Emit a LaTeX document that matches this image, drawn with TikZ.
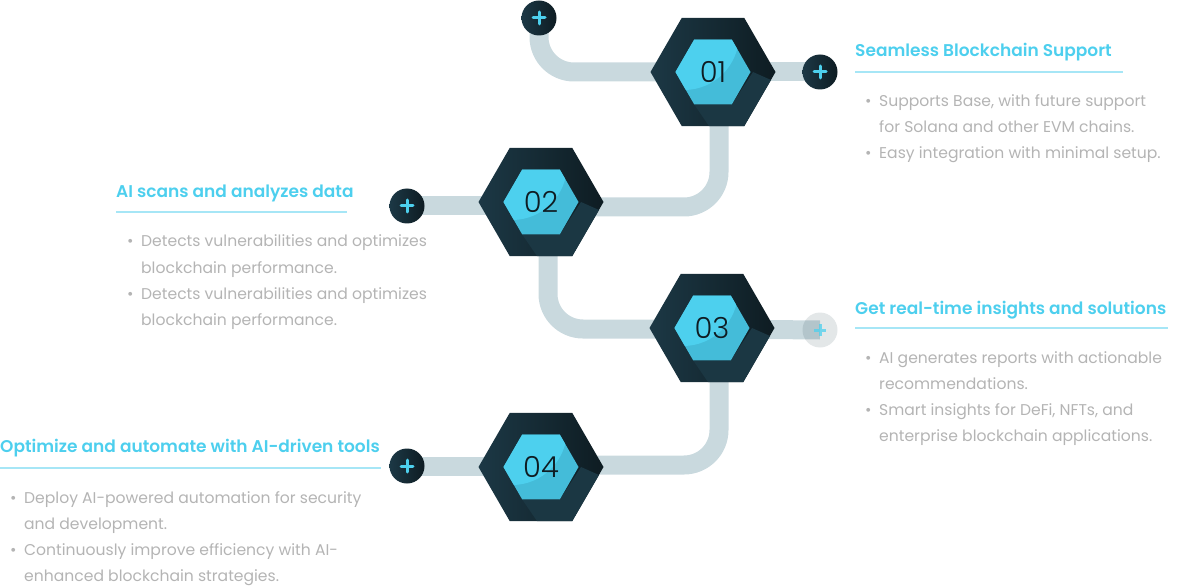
\documentclass[tikz,border=0pt]{standalone}
\usepackage{fontspec}
\setmainfont{Poppins}
\newfontfamily\headfont{Poppins}[UprightFont=*-SemiBold]
\newfontfamily\numfont{Poppins}[UprightFont=*-Light]
\usetikzlibrary{shapes.geometric,backgrounds}

\definecolor{pipecol}{HTML}{C9D9DE}
\definecolor{hexA}{HTML}{1C3845}
\definecolor{hexB}{HTML}{0E1C22}
\definecolor{hexLow}{HTML}{1B3743}
\definecolor{cyanA}{HTML}{4DD0EE}
\definecolor{cyanB}{HTML}{44BCD9}
\definecolor{headcol}{HTML}{4DCFEE}
\definecolor{linecol}{HTML}{A6E6F6}
\definecolor{bodycol}{HTML}{B4B4B4}
\definecolor{numcol}{HTML}{0F1C22}

\tikzset{
  pipe/.style={draw=pipecol, line width=19pt, rounded corners=35pt},
  hexout/.style={regular polygon, regular polygon sides=6, minimum size=125pt,
    inner sep=0pt, outer sep=0pt, left color=hexA, right color=hexB},
  hexin/.style={regular polygon, regular polygon sides=6, minimum size=75pt,
    inner sep=0pt, outer sep=0pt, fill=cyanB},
  numtxt/.style={inner sep=0pt, text=numcol, font=\numfont\fontsize{29}{29}\selectfont},
  plusmark/.style={
    path picture={
      \draw[cyanA, line width=3pt, line cap=round]
        ([xshift=-6pt]path picture bounding box.center) -- ([xshift=6pt]path picture bounding box.center)
        ([yshift=-6pt]path picture bounding box.center) -- ([yshift=6pt]path picture bounding box.center);
    }},
  plusdot/.style={circle, minimum size=35pt, inner sep=0pt, left color=hexA, right color=hexB, plusmark},
  plusfaded/.style={circle, minimum size=35pt, inner sep=0pt, fill=hexA, fill opacity=0.12,
    path picture={
      \draw[cyanA, draw opacity=0.75, line width=3pt]
        ([xshift=-6pt]path picture bounding box.center) -- ([xshift=6pt]path picture bounding box.center)
        ([yshift=-6pt]path picture bounding box.center) -- ([yshift=6pt]path picture bounding box.center);
    }},
  head/.style={anchor=base west, inner sep=0pt, text=headcol, font=\headfont\fontsize{17}{17}\selectfont},
  uline/.style={draw=linecol, line width=2.5pt},
  body/.style={anchor=base west, inner sep=0pt, text=bodycol, font=\fontsize{15.6}{15.6}\selectfont},
  dot/.style={anchor=base west, inner sep=0pt, text=bodycol, font=\fontsize{15.6}{15.6}\selectfont},
}

% hexagon badge: outer hexagon, lower facet, inner hexagon with highlight, number
\newcommand\badge[3]{%
  \node[hexout] (#1) at (#2) {};
  \fill[hexLow] ([shift={(-4,54.1)}]#1.center) -- ([shift={(-18.75,32.5)}]#1.center)
     -- ([shift={(18.75,32.5)}]#1.center) -- ([shift={(40,0)}]#1.center)
     -- ([shift={(58,8)}]#1.center) -- ([shift={(31.25,54.1)}]#1.center) -- cycle;
  \node[hexin] (#1in) at (#1.center) {};
  \begin{scope}
    \clip (#1in.corner 1) -- (#1in.corner 2) -- (#1in.corner 3) -- (#1in.corner 4)
      -- (#1in.corner 5) -- (#1in.corner 6) -- cycle;
    \fill[cyanA] ([shift={(-29,-37)}]#1in.center) circle (55pt);
  \end{scope}
  \node[numtxt] (#1num) at (#1in.center) {#3};
}

\begin{document}
\begin{tikzpicture}[x=1pt, y=-1pt]
\useasboundingbox (0,0) rectangle (1178,588);

% plus buttons
\node[plusdot] (p1) at (539,18) {};
\node[plusdot] (p2) at (820,72) {};
\node[plusdot] (p3) at (407,206) {};
\node[plusfaded] (p4) at (820,330) {};
\node[plusdot] (p5) at (407,466) {};

% hexagon badges
\badge{h1}{713,72}{01}
\badge{h2}{541,202}{02}
\badge{h3}{712,328}{03}
\badge{h4}{541,467}{04}

% pipes behind everything
\begin{pgfonlayer}{background}
  \draw[pipe] (p1.center) |- (h1.center);
  \draw[pipe] (h1.center) -- (p2.center);
  \draw[pipe] ([xshift=6pt]h1.center) |- ([yshift=-5pt]h2.center);
  \draw[pipe] (p3.center) -- ([yshift=-4pt]h2.center);
  \draw[pipe] ([xshift=7pt]h2.center) |- ([yshift=-1pt]h3.center);
  \draw[pipe] ([yshift=-1pt]h3.center) -- (p4.center);
  \draw[pipe] ([xshift=7pt]h3.center) |- ([yshift=2pt]h4.center);
  \draw[pipe] (p5.center) -- ([yshift=1pt]h4.center);
\end{pgfonlayer}

% step 1
\node[head] (t1) at (855,57) {Seamless Blockchain Support};
\draw[uline] (855,72) -- (1123,72);
\node[dot] (b1a) at (865,107) {•};
\node[body] (l1a) at (879,107) {Supports Base, with future support};
\node[body] (l1b) at (879,133) {for Solana and other EVM chains.};
\node[dot] (b1b) at (865,159) {•};
\node[body] (l1c) at (879,159) {Easy integration with minimal setup.};

% step 2
\node[head] (t2) at (116,198) {AI scans and analyzes data};
\draw[uline] (116,212) -- (347,212);
\node[dot] (b2a) at (127,247) {•};
\node[body] (l2a) at (141,247) {Detects vulnerabilities and optimizes};
\node[body] (l2b) at (141,273) {blockchain performance.};
\node[dot] (b2b) at (127,299) {•};
\node[body] (l2c) at (141,299) {Detects vulnerabilities and optimizes};
\node[body] (l2d) at (141,325) {blockchain performance.};

% step 3
\node[head] (t3) at (855,314) {Get real-time insights and solutions};
\draw[uline] (855,328) -- (1168,328);
\node[dot] (b3a) at (865,363) {•};
\node[body] (l3a) at (879,363) {AI generates reports with actionable};
\node[body] (l3b) at (879,389) {recommendations.};
\node[dot] (b3b) at (865,415) {•};
\node[body] (l3c) at (879,415) {Smart insights for DeFi, NFTs, and};
\node[body] (l3d) at (879,441) {enterprise blockchain applications.};

% step 4
\node[head] (t4) at (0,452) {Optimize and automate with AI-driven tools};
\draw[uline] (0,468) -- (381,468);
\node[dot] (b4a) at (10,503) {•};
\node[body] (l4a) at (24,503) {Deploy AI-powered automation for security};
\node[body] (l4b) at (24,529) {and development.};
\node[dot] (b4b) at (10,555) {•};
\node[body] (l4c) at (24,555) {Continuously improve efficiency with AI-};
\node[body] (l4d) at (24,581) {enhanced blockchain strategies.};
\end{tikzpicture}
\end{document}
